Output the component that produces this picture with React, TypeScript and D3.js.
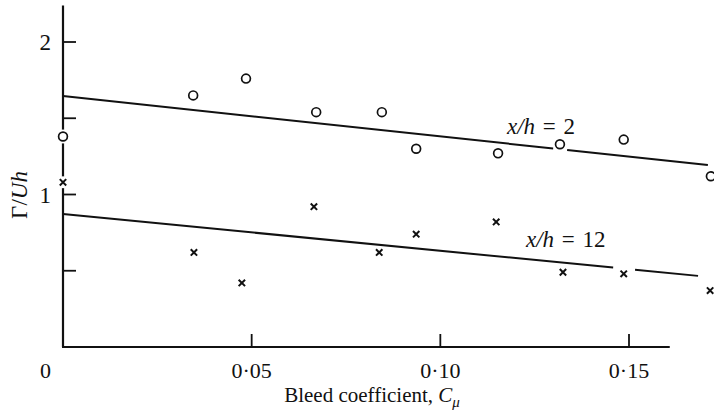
import React from 'react';
import * as d3 from 'd3';

// x/h = 2 (open circles)
const circleCmu = [0, 0.0345, 0.0485, 0.0671, 0.0845, 0.0936, 0.1153, 0.1317, 0.1486, 0.1717];
const circleGamma = [1.38, 1.65, 1.76, 1.54, 1.54, 1.30, 1.27, 1.33, 1.36, 1.12];

// x/h = 12 (crosses)
const crossCmu = [0, 0.0347, 0.0474, 0.0665, 0.0838, 0.0936, 0.1148, 0.1325, 0.1486, 0.1715];
const crossGamma = [1.08, 0.62, 0.42, 0.92, 0.62, 0.74, 0.82, 0.49, 0.48, 0.37];

// straight lines drawn through each set (intercept, slope, drawn pieces)
const fitIntercept = [1.646, 0.872];
const fitSlope = [-2.65, -2.41];
const fitPieces = [
  [[0, 0.1299], [0.1336, 0.1709]],
  [[0, 0.1458], [0.1516, 0.1683]],
];
const fitLabels = ['2', '12'];

const xTicks = [0.05, 0.1, 0.15];
const yTicks = [0.5, 1, 1.5, 2];
const yLabelled = [1, 2];

const W = 714;
const H = 420;
const FONT = "'Liberation Serif', 'DejaVu Serif', serif";

export default function App() {
  const x = d3.scaleLinear().domain([0, 0.15]).range([63, 629]);
  const y = d3.scaleLinear().domain([0, 2]).range([347, 42]);

  const xEnd = 0.1608;
  const yTop = 2.24;
  const fmt = (v: number) => d3.format('.2f')(v).replace('.', '\u00b7');

  const line = d3.line<[number, number]>().x(d => x(d[0])).y(d => y(d[1]));

  // where the "x/h = .." labels sit
  const labelPos = [
    { x: 507, y: 134 },
    { x: 526, y: 247 },
  ];

  return (
    <svg width={W} height={H}
      style={{ position: 'fixed', left: 0, top: 0, background: '#fff', fontFamily: FONT }}>
      {/* fitted lines */}
      {fitPieces.map((pieces, i) =>
        pieces.map((p, j) => (
          <path key={`f${i}-${j}`}
            d={line(p.map(c => [c, fitIntercept[i] + fitSlope[i] * c] as [number, number])) || ''}
            fill="none" stroke="#111" strokeWidth={2} />
        ))
      )}

      {/* axes */}
      <line x1={x(0)} x2={x(0)} y1={y(yTop)} y2={y(0)} stroke="#111" strokeWidth={2.2} />
      <line x1={x(0) - 1} x2={x(xEnd)} y1={y(0)} y2={y(0)} stroke="#111" strokeWidth={2.2} />
      {yTicks.map(t => (
        <line key={`yt${t}`} x1={x(0)} x2={x(0) + 13} y1={y(t)} y2={y(t)} stroke="#111" strokeWidth={1.8} />
      ))}
      {xTicks.map(t => (
        <line key={`xt${t}`} x1={x(t)} x2={x(t)} y1={y(0)} y2={y(0) - 13} stroke="#111" strokeWidth={1.8} />
      ))}
      {yLabelled.map(t => (
        <text key={`yl${t}`} x={51} y={y(t) + 8} textAnchor="end"
          style={{ fontFamily: FONT, fontSize: 23 }} fill="#111">{t}</text>
      ))}
      <text x={51} y={378} textAnchor="end" style={{ fontFamily: FONT, fontSize: 22 }} fill="#111">0</text>
      {xTicks.map(t => (
        <text key={`xl${t}`} x={x(t)} y={378} textAnchor="middle"
          style={{ fontFamily: FONT, fontSize: 22 }} fill="#111">{fmt(t)}</text>
      ))}

      {/* axis titles */}
      <text x={372} y={402} textAnchor="middle" style={{ fontFamily: FONT, fontSize: 21 }} fill="#111">
        Bleed coefficient, <tspan fontStyle="italic">C</tspan>
        <tspan fontStyle="italic" fontSize={15} dy={5}>μ</tspan>
      </text>
      <text transform="translate(27,195) rotate(-90)" textAnchor="middle"
        style={{ fontFamily: FONT, fontSize: 23 }} fill="#111">
        Γ/<tspan fontStyle="italic">Uh</tspan>
      </text>

      {/* curve labels */}
      {fitLabels.map((lab, i) => (
        <text key={`lab${i}`} x={labelPos[i].x} y={labelPos[i].y}
          style={{ fontFamily: FONT, fontSize: 23, wordSpacing: 2 }} fill="#111">
          <tspan fontStyle="italic">x/h</tspan> = {lab}
        </text>
      ))}

      {/* markers */}
      {circleCmu.map((c, i) => (
        <g key={`c${i}`}>
          <circle cx={x(c)} cy={y(circleGamma[i])} r={7} fill="#fff" />
          <circle cx={x(c)} cy={y(circleGamma[i])} r={4.4} fill="#fff" stroke="#111" strokeWidth={1.7} />
        </g>
      ))}
      {crossCmu.map((c, i) => {
        const cx = x(c);
        const cy = y(crossGamma[i]);
        const s = 3.2;
        return (
          <g key={`x${i}`}>
            <circle cx={cx} cy={cy} r={6} fill="#fff" />
            <path d={`M${cx - s},${cy - s}L${cx + s},${cy + s}M${cx - s},${cy + s}L${cx + s},${cy - s}`}
              stroke="#111" strokeWidth={2} />
          </g>
        );
      })}
    </svg>
  );
}
